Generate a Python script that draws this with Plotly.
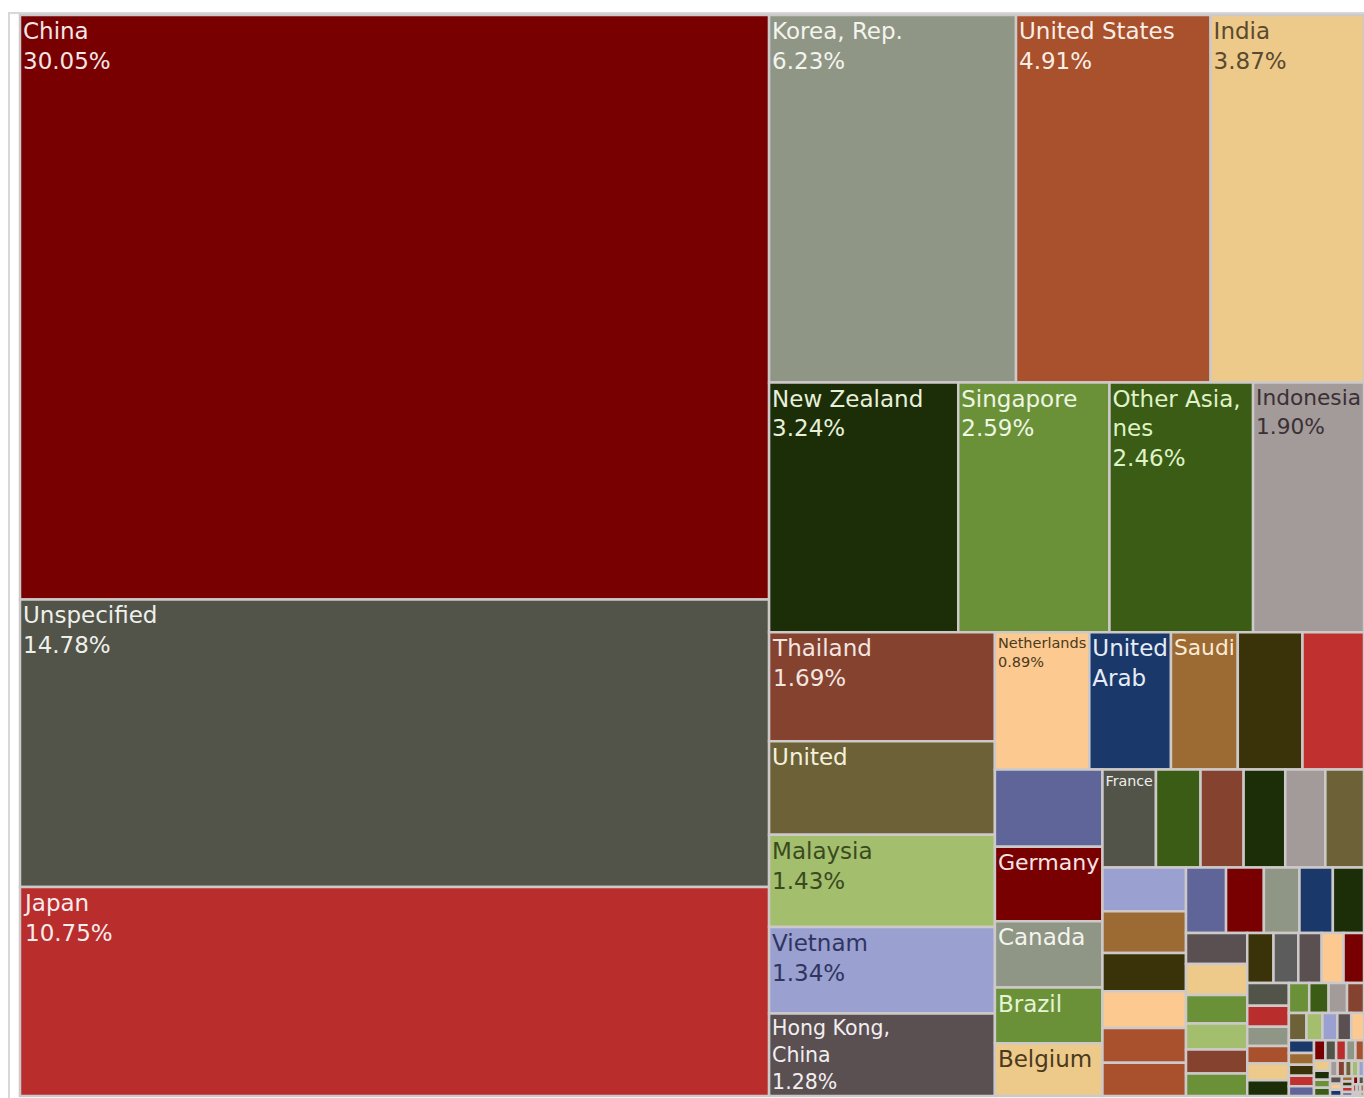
import plotly.graph_objects as go

# ---------------- data ----------------
countries = [
    "China", "Unspecified", "Japan", "Korea, Rep.", "United States",
    "India", "New Zealand", "Singapore", "Other Asia, nes", "Indonesia",
    "Thailand", "United Kingdom", "Malaysia", "Vietnam", "Hong Kong, China",
    "Netherlands", "United Arab Emirates", "Saudi Arabia", "Philippines", "South Africa",
    "Papua New Guinea", "Germany", "Canada", "Brazil", "Belgium", "France",
    "Italy", "Bangladesh", "Chile", "Qatar", "Mexico",
    "Spain", "Kuwait", "Pakistan", "Sri Lanka", "Switzerland",
    "Turkey", "Egypt", "Israel", "Fiji", "New Caledonia",
    "Oman", "Peru", "Sweden", "Poland", "Jordan",
    "Iraq", "Argentina", "Colombia", "Kenya", "Myanmar", "Cambodia",
    "Mauritius", "Nigeria", "Ghana", "Russian Federation", "Denmark", "Finland", "Norway",
    "Austria", "Ireland", "Greece", "Portugal", "Hungary", "Czech Republic", "Romania", "Ukraine",
    "Morocco", "Algeria", "Tunisia", "Lebanon", "Bahrain", "Yemen", "Nepal", "Mongolia",
    "Brunei", "Timor-Leste", "Vanuatu", "Solomon Islands", "Samoa", "Tonga", "Kiribati", "French Polynesia",
    "Tanzania", "Mozambique", "Zambia", "Ethiopia", "Sudan", "Angola", "Ecuador", "Venezuela", "Uruguay",
    "Panama", "Costa Rica", "Guatemala", "Dominican Republic", "Jamaica", "Kazakhstan", "Georgia",
    "Lithuania", "Slovenia", "Croatia",
]

shares = [
    30.05, 14.78, 10.75, 6.23, 4.91,
    3.87, 3.24, 2.59, 2.46, 1.90,
    1.69, 1.45, 1.43, 1.34, 1.28,
    0.89, 0.77, 0.63, 0.61, 0.58,
    0.57, 0.55, 0.49, 0.41, 0.39, 0.36,
    0.30, 0.29, 0.28, 0.27, 0.26,
    0.25, 0.24, 0.22, 0.21, 0.20,
    0.19, 0.18, 0.17, 0.16, 0.15,
    0.14, 0.13, 0.13, 0.12, 0.11,
    0.10, 0.095, 0.09, 0.085, 0.08, 0.075,
    0.07, 0.065, 0.06, 0.055, 0.05, 0.048, 0.045,
    0.042, 0.04, 0.038, 0.035, 0.033, 0.03, 0.028, 0.026,
    0.024, 0.022, 0.02, 0.019, 0.018, 0.017, 0.016, 0.015,
    0.014, 0.013, 0.012, 0.011, 0.01, 0.009, 0.009, 0.008,
    0.008, 0.007, 0.007, 0.006, 0.006, 0.005, 0.005, 0.004, 0.004,
    0.004, 0.003, 0.003, 0.003, 0.002, 0.002, 0.002, 0.001,
    0.001, 0.001,
]

# text shown inside the labelled cells (as in the reference)
display_text = [
    "China<br>30.05%", "Unspecified<br>14.78%", "Japan<br>10.75%",
    "Korea, Rep.<br>6.23%", "United States<br>4.91%",
    "India<br>3.87%", "New Zealand<br>3.24%", "Singapore<br>2.59%",
    "Other Asia,<br>nes<br>2.46%", "Indonesia<br>1.90%",
    "Thailand<br>1.69%", "United", "Malaysia<br>1.43%", "Vietnam<br>1.34%",
    "Hong Kong,<br>China<br>1.28%", "Netherlands<br>0.89%",
    "United<br>Arab", "Saudi", "", "", "",
    "Germany", "Canada", "Brazil", "Belgium", "France",
]

# ---------------- styles ----------------
DR, DG, RD, GG, RU = "#780000", "#525349", "#b92d2d", "#8f9685", "#a9502c"
TN, DKG, GR, GR2, MV = "#edc98a", "#1c2e07", "#6b9138", "#3b5c14", "#a39a9a"
BR, OL, LG, LV, DM = "#85422f", "#6d6237", "#a3be6c", "#9aa0d0", "#5a5052"
PC, NV, BT, DO, RD2, BP = "#fcc990", "#1a3869", "#9c6a33", "#3a3208", "#c0302e", "#5f6499"

head_colors = [
    DR, DG, RD, GG, RU, TN, DKG, GR, GR2, MV, BR, OL, LG, LV, DM, PC,
    NV, BT, DO, RD2, BP, DR, GG, GR, TN, DG,
    GR2, BR, DKG, MV, OL, LV, BT, DO, PC, RU, RU, BP, DR, GG, NV,
    DKG, DM, TN, GR, LG, BR, GR, DO, "#5c5c5c", DM, PC,
]
palette = [DR, DG, RD, GG, RU, TN, DKG, GR, GR2, MV, BR, OL, LG, LV, DM, PC, NV, BT, DO, RD2, BP]
cell_colors = head_colors + [palette[i % len(palette)] for i in range(len(countries) - len(head_colors))]

WH = "#f4f0ec"
head_text_colors = [
    "#f3e6e6", "#eef0ea", "#f7ecec", "#f4f4ee", "#f8eee6",
    "#5a4a30", "#e8f0dc", "#eef6e4", "#dff2c8", "#3a3035",
    "#f3e6e2", "#f4f0dc", "#3a4a20", "#303560", "#f2eef0",
    "#4a3a20", "#e6ecf6", "#fbecd6", WH, WH, WH,
    "#f6e4e4", "#f4f4ee", "#e4f4d4", "#4a3a20", "#eeeeea",
]
text_colors = head_text_colors + [WH] * (len(countries) - len(head_text_colors))
texts = display_text + [""] * (len(countries) - len(display_text))

FONT = "DejaVu Sans, Verdana, sans-serif"
FONT_SIZE = 23

fig = go.Figure(
    go.Treemap(
        labels=countries,
        parents=[""] * len(countries),
        values=shares,
        text=texts,
        textinfo="text",
        textposition="top left",
        textfont=dict(family=FONT, size=FONT_SIZE, color=text_colors),
        hovertemplate="%{label}<br>%{value:.2f}%<extra></extra>",
        marker=dict(
            colors=cell_colors,
            line=dict(color="#cdc9c9", width=2.5),
            pad=dict(t=0, l=0, r=0, b=0),
        ),
        tiling=dict(packing="squarify", squarifyratio=2, pad=0),
        pathbar=dict(visible=False),
        root=dict(color="rgba(0,0,0,0)"),
        sort=True,
    )
)

W, H = 1364, 1098
ML, MR, MT, MB = 20, 0, 15, 2
pw, ph = W - ML - MR, H - MT - MB
frame_left_px, frame_top_px = 9, 13

fig.add_shape(
    type="rect", xref="paper", yref="paper",
    x0=(frame_left_px - ML) / pw, x1=1.02,
    y0=-0.02, y1=1 + (MT - frame_top_px) / ph,
    line=dict(color="#d8d8d8", width=2),
    fillcolor="rgba(0,0,0,0)", layer="below",
)

fig.update_layout(
    width=W, height=H,
    margin=dict(l=ML, r=MR, t=MT, b=MB),
    paper_bgcolor="white",
    showlegend=False,
)

fig.write_html(
    "out.html",
    config={"displayModeBar": False},
    post_script="document.body.style.margin='0';document.body.style.overflow='hidden';",
)
